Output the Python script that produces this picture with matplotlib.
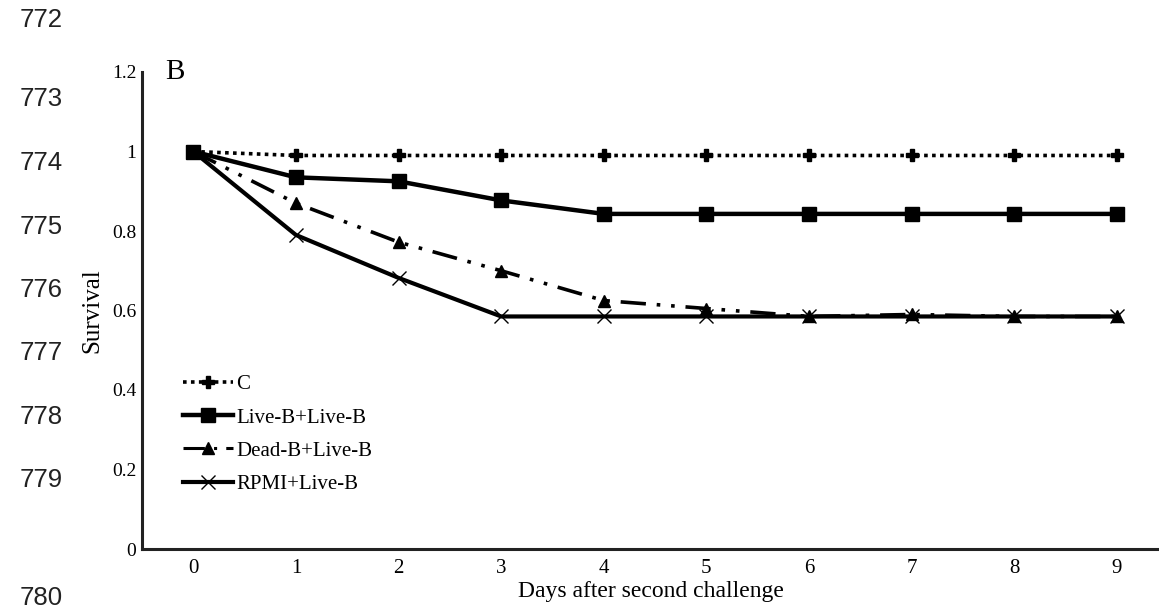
import matplotlib.pyplot as plt
from matplotlib.lines import Line2D

days = [0, 1, 2, 3, 4, 5, 6, 7, 8, 9]
c_surv = [1.0, 0.99, 0.99, 0.99, 0.99, 0.99, 0.99, 0.99, 0.99, 0.99]
live_surv = [1.0, 0.935, 0.925, 0.877, 0.843, 0.843, 0.843, 0.843, 0.843, 0.843]
dead_surv = [1.0, 0.87, 0.772, 0.70, 0.625, 0.605, 0.585, 0.59, 0.585, 0.585]
rpmi_surv = [1.0, 0.79, 0.682, 0.585, 0.585, 0.585, 0.585, 0.585, 0.585, 0.585]
legend_labels = ['C', 'Live-B+Live-B', 'Dead-B+Live-B', 'RPMI+Live-B']
line_numbers = ['772', '773', '774', '775', '776', '777', '778', '779', '780']

plt.rcParams['font.family'] = ['Liberation Serif', 'DejaVu Serif']

fig = plt.figure(figsize=(11.59, 6.10), dpi=100)
ax = fig.add_axes([142 / 1159, 1 - 549 / 610, 1 - 142 / 1159, (549 - 72) / 610])

# page line numbers down the left margin
num_y = [20, 99, 163, 227, 290, 353, 417, 480, 598]
for t, yp in zip(line_numbers, num_y):
    fig.text(20 / 1159, 1 - yp / 610, t, fontsize=18.5, family='Liberation Sans',
             va='center', ha='left', color='#222222')

dashdot = (0, (7, 3, 1, 3, 1, 3))
ax.plot(days, c_surv, color='black', linestyle=(0, (1, 1.2)), linewidth=2.6,
        marker='P', markersize=8)
ax.plot(days, live_surv, color='black', linestyle='-', linewidth=3.2,
        marker='s', markersize=10)
ax.plot(days, dead_surv, color='black', linestyle=dashdot, linewidth=2.6,
        marker='^', markersize=9)
ax.plot(days, rpmi_surv, color='black', linestyle='-', linewidth=3.0,
        marker='x', markersize=10, markeredgewidth=1)

ax.set_xlim(-0.5, 9.41)
ax.set_ylim(0, 1.2)
ax.set_xticks(days)
ax.set_yticks([0, 0.2, 0.4, 0.6, 0.8, 1.0, 1.2])
ax.set_yticklabels(['0', '0.2', '0.4', '0.6', '0.8', '1', '1.2'])
ax.tick_params(axis='both', length=0)
ax.tick_params(axis='y', labelsize=14, pad=4)
ax.tick_params(axis='x', labelsize=15, pad=7)
for s in ['top', 'right']:
    ax.spines[s].set_visible(False)
for s in ['left', 'bottom']:
    ax.spines[s].set_linewidth(2.2)
    ax.spines[s].set_color('#222222')

ax.set_xlabel('Days after second challenge', fontsize=17, labelpad=2)
ax.set_ylabel('Survival', fontsize=18, labelpad=6)
ax.text(0.0226, 1.0, 'B', transform=ax.transAxes, fontsize=21, va='center', ha='left')

handles = [
    Line2D([], [], color='black', linestyle=(0, (1, 1.2)), linewidth=2.6, marker='P', markersize=8),
    Line2D([], [], color='black', linestyle='-', linewidth=3.2, marker='s', markersize=10),
    Line2D([], [], color='black', linestyle=(0, (7, 3, 1, 3)), linewidth=2.2, marker='^', markersize=8),
    Line2D([], [], color='black', linestyle='-', linewidth=3.0, marker='x', markersize=10, markeredgewidth=1),
]
ax.legend(handles, legend_labels, loc='upper left', bbox_to_anchor=((183 - 142) / 1017, 0.365),
          frameon=False, fontsize=15, handlelength=2.4, handletextpad=0.15,
          labelspacing=0.65, borderaxespad=0, borderpad=0)

fig.savefig('out.png', dpi=100)
